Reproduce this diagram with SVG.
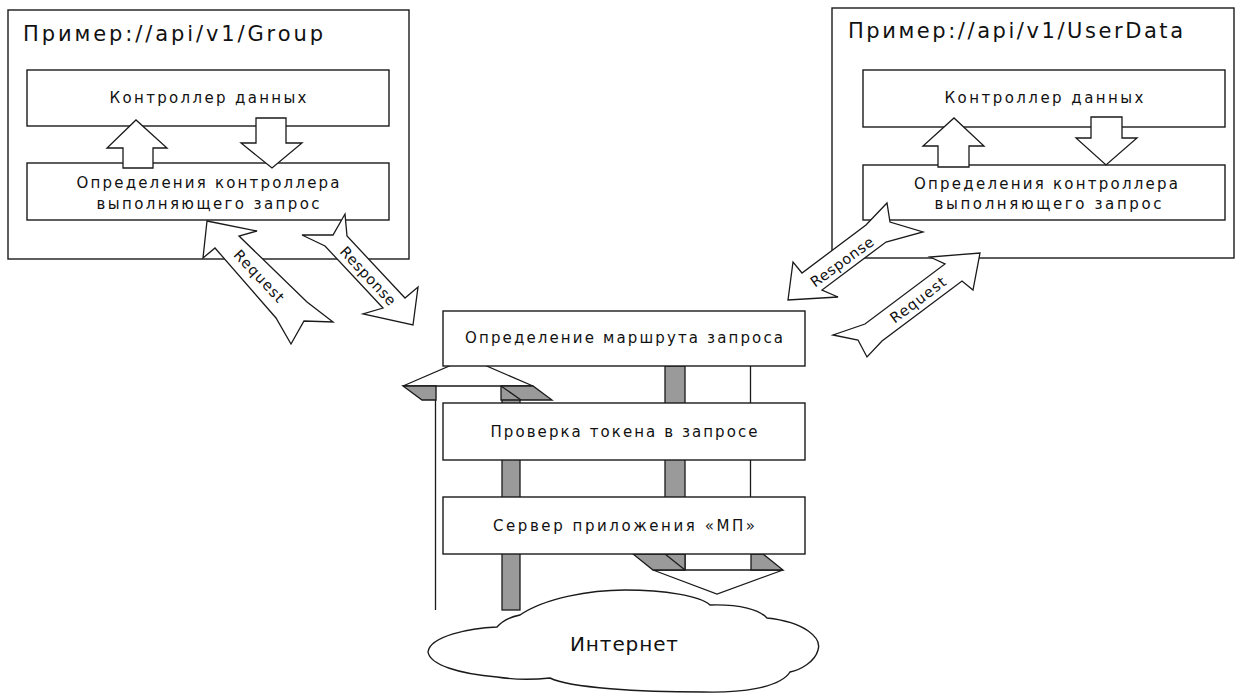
<svg xmlns="http://www.w3.org/2000/svg" width="1252" height="695" viewBox="0 0 1252 695">
  <defs>
    <style>
      .frame { fill: #ffffff; stroke: #1a1a1a; stroke-width: 1.4; }
      .box { fill: #ffffff; stroke: #1a1a1a; stroke-width: 1.4; }
      .blk { fill: #ffffff; stroke: #1a1a1a; stroke-width: 1.3; stroke-linejoin: miter; }
      .shade { fill: #9a9a9a; stroke: #1a1a1a; stroke-width: 1.3; }
      .ln { fill: none; stroke: #1a1a1a; stroke-width: 1.3; }
      .t { font-family: "DejaVu Sans", "Open Sans", sans-serif; fill: #111111; }
      .title { font-size: 21px; }
      .lbl { font-size: 15px; text-anchor: middle; }
      .tag { font-size: 14.5px; text-anchor: middle; dominant-baseline: central; }
      .big { font-size: 20px; text-anchor: middle; }
    </style>
  </defs>

  <!-- Left service: /api/v1/Group -->
  <g id="group-service">
    <rect class="frame" x="8" y="10" width="401" height="249"/>
    <text class="t title" x="23" y="41" textLength="300" lengthAdjust="spacing">Пример://api/v1/Group</text>
    <g id="group-data-controller">
      <rect class="box" x="27" y="70" width="362" height="56"/>
      <text class="t lbl" x="208" y="103" textLength="197" lengthAdjust="spacing">Контроллер данных</text>
    </g>
    <g id="group-dispatcher">
      <rect class="box" x="27" y="163" width="362" height="57"/>
      <text class="t lbl" x="208" y="188" textLength="263" lengthAdjust="spacing">Определения контроллера</text>
      <text class="t lbl" x="208" y="209" textLength="223" lengthAdjust="spacing">выполняющего запрос</text>
    </g>
    <polygon class="blk" points="123,168 123,148 107,148 136,120 167,148 153,148 153,168"/>
    <polygon class="blk" points="256,118 286,118 286,143 302,143 272,168 241,143 256,143"/>
  </g>

  <!-- Right service: /api/v1/UserData -->
  <g id="userdata-service">
    <rect class="frame" x="832" y="8" width="402" height="250"/>
    <text class="t title" x="848" y="38" textLength="335" lengthAdjust="spacing">Пример://api/v1/UserData</text>
    <g id="userdata-data-controller">
      <rect class="box" x="863" y="70" width="362" height="57"/>
      <text class="t lbl" x="1044" y="103" textLength="199" lengthAdjust="spacing">Контроллер данных</text>
    </g>
    <g id="userdata-dispatcher">
      <rect class="box" x="863" y="165" width="362" height="55"/>
      <text class="t lbl" x="1046" y="189" textLength="264" lengthAdjust="spacing">Определения контроллера</text>
      <text class="t lbl" x="1048" y="209" textLength="227" lengthAdjust="spacing">выполняющего запрос</text>
    </g>
    <polygon class="blk" points="938,167 938,146 923,146 954,118 984,146 969,146 969,167"/>
    <polygon class="blk" points="1091,117 1122,117 1122,138 1137,138 1106,165 1076,138 1091,138"/>
  </g>

  <!-- Request / Response block arrows between services and router -->
  <g id="connectors">
    <g id="group-request">
      <polygon class="blk" points="207,221 257,231 239,236 307,302 333,322 304,321 291,344 276,318 215,248 203,258"/>
      <text class="t tag" transform="translate(259,276) rotate(46.7)" textLength="66" lengthAdjust="spacing">Request</text>
    </g>
    <g id="group-response">
      <polygon class="blk" points="345,214 347,236 405,298 418,287 413,325 363,314 383,308 325,246 302,235 333,235"/>
      <text class="t tag" transform="translate(368,276) rotate(47)" textLength="74" lengthAdjust="spacing">Response</text>
    </g>
    <g id="userdata-response">
      <polygon class="blk" points="788,300 793,262 802,273 866,225 887,203 890,222 923,232 886,242 822,290 838,297"/>
      <text class="t tag" transform="translate(842,262) rotate(-36)" textLength="74" lengthAdjust="spacing">Response</text>
    </g>
    <g id="userdata-request">
      <polygon class="blk" points="980,253 973,290 962,281 882,341 867,357 858,340 833,335 865,324 945,264 930,257"/>
      <text class="t tag" transform="translate(918,300) rotate(-37)" textLength="66" lengthAdjust="spacing">Request</text>
    </g>

    <!-- upward 3D arrow (incoming traffic) -->
    <g id="inbound-arrow">
      <rect class="shade" x="502" y="386" width="18" height="224"/>
      <line class="ln" x1="435.5" y1="386" x2="435.5" y2="610"/>
      <polygon class="blk" points="403,386 468,358 533,386"/>
      <polygon class="shade" points="403,386 436,386 436,400 422,400"/>
      <polygon class="shade" points="501,386 533,386 552,400 501,400"/>
      <line class="ln" x1="501" y1="386" x2="521" y2="400"/>
    </g>

    <!-- downward 3D arrow (outgoing traffic) -->
    <g id="outbound-arrow">
      <rect class="shade" x="665" y="366" width="20" height="204"/>
      <line class="ln" x1="750.5" y1="366" x2="750.5" y2="554"/>
      <polygon class="blk" points="653,570 717,594 783,570"/>
      <polygon class="shade" points="633,554 685,554 685,570 653,570"/>
      <line class="ln" x1="665" y1="554" x2="685" y2="570"/>
      <polygon class="shade" points="751,554 763,554 783,570 751,570"/>
    </g>
  </g>

  <!-- Server pipeline -->
  <g id="route-resolver">
    <rect class="box" x="443" y="311" width="362" height="55"/>
    <text class="t lbl" x="624" y="343" textLength="318" lengthAdjust="spacing">Определение маршрута запроса</text>
  </g>
  <g id="token-check">
    <rect class="box" x="443" y="403" width="362" height="57"/>
    <text class="t lbl" x="624" y="437" textLength="267" lengthAdjust="spacing">Проверка токена в запросе</text>
  </g>
  <g id="app-server">
    <rect class="box" x="443" y="497" width="362" height="57"/>
    <text class="t lbl" x="624" y="531" textLength="262" lengthAdjust="spacing">Сервер приложения «МП»</text>
  </g>

  <!-- Internet cloud -->
  <g id="internet">
    <path class="box" d="M 428,652 C 430,636 470,628 497,627 C 503,620 510,617 520,615 C 545,598 590,590 625,590 C 665,590 700,596 710,605 C 740,604 760,610 767,618 C 805,622 822,638 818,650 C 815,662 800,670 790,672 C 780,688 740,693 703,692 C 640,692 570,688 550,678 C 530,680 510,679 497,677 C 460,674 430,665 428,652 Z"/>
    <text class="t big" x="624" y="651" textLength="108" lengthAdjust="spacing">Интернет</text>
  </g>
</svg>
